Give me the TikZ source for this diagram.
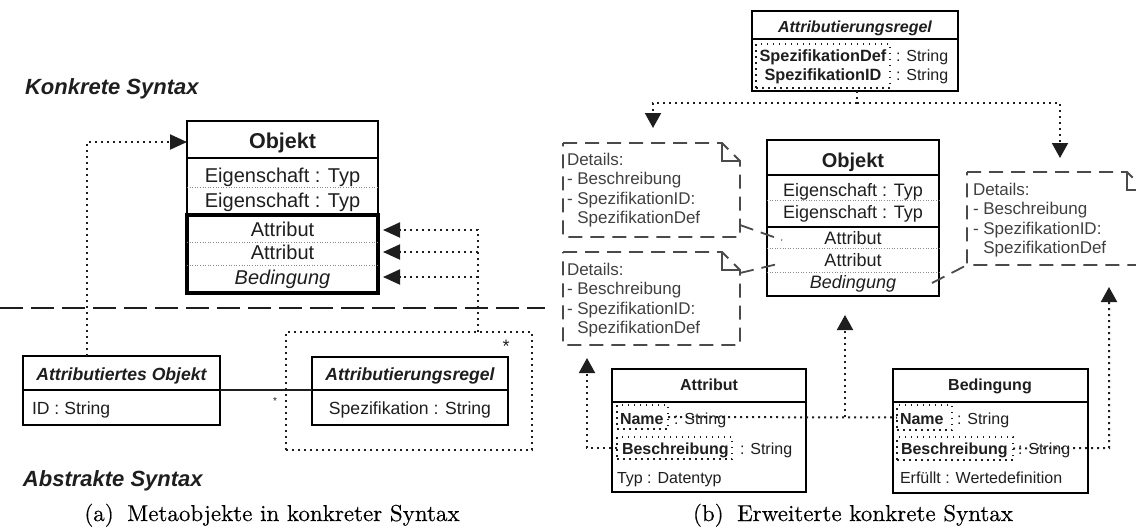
\documentclass[tikz,border=0pt]{standalone}
\usepackage{fontspec}
\setsansfont{Liberation Sans}
\newfontfamily\capfont[Extension=.otf, FakeBold=0.35]{lmroman10-regular}
\usetikzlibrary{arrows.meta,calc}
\definecolor{ink}{HTML}{1E1E1E}
\definecolor{notegray}{HTML}{4A4A4A}
\definecolor{rulegray}{HTML}{8A8A8A}
\newcommand\fsz[1]{\fontsize{#1}{#1}\selectfont}
% folded-corner outline of a note node
\newcommand\dogear[1]{%
  \draw[noteline] (#1.north west) -- ($(#1.north east)+(-18,0)$)
    -- ($(#1.north east)+(0,18)$) -- (#1.south east) -- (#1.south west) -- cycle;
  \draw[foldline] ($(#1.north east)+(-18,0)$) -- ($(#1.north east)+(-18,18)$)
    -- ($(#1.north east)+(0,18)$);}
\tikzset{
  txt/.style={text=ink, inner sep=0pt, outer sep=0pt},
  head/.style={txt, font=\sffamily\bfseries\itshape\fsz{22}},
  tLb/.style={txt, font=\sffamily\bfseries\fsz{21.5}},
  tL/.style={txt, font=\sffamily\fsz{20}},
  tLi/.style={txt, font=\sffamily\itshape\fsz{20}},
  tMbi/.style={txt, font=\sffamily\bfseries\itshape\fsz{17.6}},
  tM/.style={txt, font=\sffamily\fsz{17.6}},
  tRb/.style={txt, font=\sffamily\bfseries\fsz{20}},
  tR/.style={txt, font=\sffamily\fsz{18}},
  tRi/.style={txt, font=\sffamily\itshape\fsz{18}},
  tTbi/.style={txt, font=\sffamily\bfseries\itshape\fsz{16}},
  tTb/.style={txt, font=\sffamily\bfseries\fsz{16.3}},
  tSb/.style={txt, font=\sffamily\bfseries\fsz{16}},
  tS/.style={txt, font=\sffamily\fsz{16}},
  tN/.style={txt, text=ink!85, font=\sffamily\fontsize{17}{19.5}\selectfont, align=left},
  captxt/.style={inner sep=0pt, font=\capfont\fontsize{23}{28}\selectfont},
  box/.style={draw=black, line width=1.6pt, rectangle, inner sep=0pt, outer sep=0pt, anchor=north west},
  area/.style={rectangle, inner sep=0pt, outer sep=0pt, anchor=north west},
  dotbox/.style={area, draw=ink, line width=1.5pt, dash pattern=on 1.5pt off 4.5pt},
  div/.style={draw=rulegray, line width=1pt, dash pattern=on 1pt off 1.6pt},
  conn/.style={draw=ink, line width=2pt, dash pattern=on 2pt off 4pt},
  arrL/.style={-{Triangle[length=17pt,width=15pt]}},
  arrR/.style={-{Triangle[length=15pt,width=16pt]}},
  sepline/.style={draw=ink, line width=2.4pt, dash pattern=on 23pt off 8pt},
  noteline/.style={draw=notegray, line width=1.8pt, dash pattern=on 14pt off 8pt},
  foldline/.style={draw=notegray, line width=1.8pt},
  assoc/.style={draw=ink, line width=1.3pt}
}
\begin{document}
\begin{tikzpicture}[x=1pt,y=-1pt]
\useasboundingbox (0,0) rectangle (1136,531);
\clip (0,0) rectangle (1136,531);

% ---------------- left: concrete vs. abstract syntax ----------------
\node[head, anchor=base west] (konk) at (25,94) {Konkrete Syntax};
\node[head, anchor=base west] (abst) at (23,486) {Abstrakte Syntax};

% Objekt class
\node[box, line width=2.2pt, minimum width=191, minimum height=172] (objL) at (187,121) {};
\draw[line width=2.2pt] ($(objL.north west)+(0,37)$) -- ($(objL.north east)+(0,37)$);
\draw[div] ($(objL.north west)+(0,66)$) -- ($(objL.north east)+(0,66)$);
\node[box, line width=4pt, minimum width=191, minimum height=78] (attL) at (187,215) {};
\draw[div] ($(attL.north west)+(0,27)$) -- ($(attL.north east)+(0,27)$);
\draw[div] ($(attL.north west)+(0,50)$) -- ($(attL.north east)+(0,50)$);
\node[tLb, anchor=base] (objLh) at (282.5,148) {Objekt};
\node[tL, anchor=base] (eigL1) at (282.5,182) {Eigenschaft : Typ};
\node[tL, anchor=base] (eigL2) at (282.5,207) {Eigenschaft : Typ};
\node[tL, anchor=base] (attL1) at (282.5,236) {Attribut};
\node[tL, anchor=base] (attL2) at (282.5,259.5) {Attribut};
\node[tLi, anchor=base] (bedL) at (282.5,284) {Bedingung};

% Attributiertes Objekt
\node[box, minimum width=197, minimum height=69] (aobj) at (23,356) {};
\draw[line width=1.6pt] ($(aobj.north west)+(0,34)$) -- ($(aobj.north east)+(0,34)$);
\node[tMbi, anchor=base] (aobjh) at (121.5,380) {Attributiertes Objekt};
\node[tM, anchor=base west] (aobjid) at (32,414) {ID : String};

% Attributierungsregel
\node[box, minimum width=196, minimum height=68] (areg) at (312,357) {};
\draw[line width=1.6pt] ($(areg.north west)+(0,33)$) -- ($(areg.north east)+(0,33)$);
\node[tMbi, anchor=base] (aregh) at (410,380) {Attributierungsregel};
\node[tM, anchor=base] (aregs) at (410,414) {Spezifikation : String};

% association between them
\draw[assoc] ($(aobj.north east)+(0,34)$) -- ($(areg.north west)+(0,33)$);
\node[txt, font=\sffamily\fsz{10}] (mult1) at (275,401) {*};

% dotted frame around the rule
\node[dotbox, line width=2pt, dash pattern=on 2pt off 4pt, minimum width=246, minimum height=118] (frm) at (286,332) {};
\node[txt, font=\sffamily\fsz{18}] (mult2) at (506,346.5) {*};

% rule applies to the attribute rows
\coordinate (r1) at (478,230);
\coordinate (r2) at (478,252);
\coordinate (r3) at (478,277);
\draw[conn, arrL, shorten >=5pt] (frm.north -| r1) -- (r1) -- (r1 -| objL.east);
\draw[conn, arrL, shorten >=5pt] (r2) -- (r2 -| objL.east);
\draw[conn, arrL, shorten >=5pt] (r3) -- (r3 -| objL.east);

% attributed object is shown as Objekt
\coordinate (lt) at (87,142);
\draw[conn, arrL] (aobj.north -| lt) -- (lt) -- (lt -| objL.west);

% separator between concrete and abstract syntax
\coordinate (sepL) at (0,308);
\coordinate (sepR) at (545,308);
\draw[sepline] (sepL) -- (sepR);

% ---------------- right: extended concrete syntax ----------------
% Attributierungsregel (top)
\node[box, minimum width=206, minimum height=80] (treg) at (752,11) {};
\draw[line width=1.6pt] ($(treg.north west)+(0,28)$) -- ($(treg.north east)+(0,28)$);
\node[tTbi, anchor=base] (tregh) at (855,32) {Attributierungsregel};
\node[dotbox, minimum width=134, minimum height=44] (spec) at (756,44) {};
\node[tTb, anchor=base] (sdef) at (823,61) {SpezifikationDef};
\node[tS, anchor=base west] (sdefT) at (896,61) {: String};
\node[tTb, anchor=base] (sid) at (823,80) {SpezifikationID};
\node[tS, anchor=base west] (sidT) at (896,80) {: String};

% notes
\node[area, minimum width=177, minimum height=94] (note1) at (563,143) {};
\dogear{note1}
\node[tN, anchor=north west] (note1t) at (567,153) {Details:\\- Beschreibung\\- SpezifikationID:\\\hphantom{-}\ SpezifikationDef};
\node[area, minimum width=177, minimum height=93] (note2) at (563,252) {};
\dogear{note2}
\node[tN, anchor=north west] (note2t) at (567,263) {Details:\\- Beschreibung\\- SpezifikationID:\\\hphantom{-}\ SpezifikationDef};
\node[area, minimum width=178, minimum height=93] (note3) at (967,172) {};
\dogear{note3}
\node[tN, anchor=north west] (note3t) at (973,183) {Details:\\- Beschreibung\\- SpezifikationID:\\\hphantom{-}\ SpezifikationDef};

% rule feeds the notes
\coordinate (tsplit) at (857,103);
\coordinate (tl) at (653,103);
\coordinate (tr) at (1060,103);
\draw[conn] (treg.south -| tsplit) -- (tsplit);
\draw[conn, arrR, shorten >=15pt] (tsplit) -- (tl) -- (tl |- note1.north);
\draw[conn, arrR, shorten >=14pt] (tsplit) -- (tr) -- (tr |- note3.north);

% Objekt class
\node[box, line width=2pt, minimum width=172, minimum height=156] (objR) at (767,140) {};
\draw[line width=2pt] ($(objR.north west)+(0,35)$) -- ($(objR.north east)+(0,35)$);
\draw[line width=2pt] ($(objR.north west)+(0,87)$) -- ($(objR.north east)+(0,87)$);
\draw[div] ($(objR.north west)+(0,60)$) -- ($(objR.north east)+(0,60)$);
\draw[div] ($(objR.north west)+(0,108)$) -- ($(objR.north east)+(0,108)$);
\draw[div] ($(objR.north west)+(0,132)$) -- ($(objR.north east)+(0,132)$);
\node[tRb, anchor=base] (objRh) at (853,167) {Objekt};
\node[tR, anchor=base] (eigR1) at (853,196) {Eigenschaft : Typ};
\node[tR, anchor=base] (eigR2) at (853,218) {Eigenschaft : Typ};
\node[tR, anchor=base] (attR1) at (853,244) {Attribut};
\node[tR, anchor=base] (attR2) at (853,266) {Attribut};
\node[tRi, anchor=base] (bedR) at (853,288.5) {Bedingung};

% notes attached to the rows
\coordinate (a1) at (782,240);
\coordinate (a2) at (782,263);
\coordinate (b3) at (932,283);
\draw[noteline] ($(note1.south east)+(0,-12)$) -- (a1);
\draw[noteline] ($(note2.north east)+(0,21)$) -- (a2);
\draw[noteline] (b3) -- (note3.south west);

% Attribut class
\node[box, line width=1.5pt, minimum width=194, minimum height=123] (attr) at (612,369) {};
\draw[line width=1.5pt] ($(attr.north west)+(0,33)$) -- ($(attr.north east)+(0,33)$);
\node[tSb, anchor=base] (attrh) at (709,390) {Attribut};
\node[dotbox, minimum width=51, minimum height=24] (nameA) at (617,405) {};
\node[dotbox, minimum width=115, minimum height=22] (beschA) at (617,437) {};
\node[tSb, anchor=base west] (nameAt) at (620,424) {Name};
\node[tS, anchor=base west] (nameAs) at (674,424) {: String};
\node[tSb, anchor=base west] (beschAt) at (622,454) {Beschreibung};
\node[tS, anchor=base west] (beschAs) at (740,454) {: String};
\node[tS, anchor=base west] (typA) at (617,483) {Typ : Datentyp};

% Bedingung class
\node[box, line width=1.5pt, minimum width=195, minimum height=124] (bed) at (893,369) {};
\draw[line width=1.5pt] ($(bed.north west)+(0,33)$) -- ($(bed.north east)+(0,33)$);
\node[tSb, anchor=base] (bedh) at (990,390) {Bedingung};
\node[dotbox, minimum width=55, minimum height=25] (nameB) at (897,405) {};
\node[dotbox, minimum width=116, minimum height=23] (beschB) at (897,437) {};
\node[tSb, anchor=base west] (nameBt) at (900,424) {Name};
\node[tS, anchor=base west] (nameBs) at (957,424) {: String};
\node[tSb, anchor=base west] (beschBt) at (901,454) {Beschreibung};
\node[tS, anchor=base west] (beschBs) at (1018,454) {: String};
\node[tS, anchor=base west] (erfB) at (900,483) {Erfüllt : Wertedefinition};

% name and description links
\coordinate (up) at (845,417);
\coordinate (lb) at (587,448);
\coordinate (rb) at (1109,448);
\draw[conn] (nameA.east) -- (nameB.west);
\draw[conn, arrR, shorten >=19pt] (up) -- (up |- objR.south);
\draw[conn, arrR, shorten >=13pt] (beschA.west) -- (lb) -- (lb |- note2.south);
\draw[conn, arrR, shorten >=22pt] (beschB.east) -- (rb) -- (rb |- note3.south);

% captions
\node[captxt, anchor=base] (capa) at (272,521) {(a)\hspace{0.25em} Metaobjekte in konkreter Syntax};
\node[captxt, anchor=base] (capb) at (853,521) {(b)\hspace{0.25em} Erweiterte konkrete Syntax};
\end{tikzpicture}
\end{document}
